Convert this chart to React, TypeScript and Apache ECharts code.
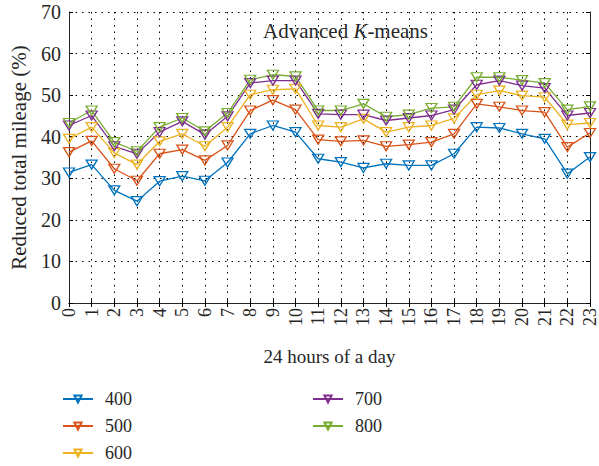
import React, { useEffect, useRef } from "react";
import * as echarts from "echarts";

const hours = ["0","1","2","3","4","5","6","7","8","9","10","11","12","13","14","15","16","17","18","19","20","21","22","23"];
const seriesNames = ["400", "500", "600", "700", "800"];
const s400 = [31.4, 33.3, 27.1, 24.5, 29.3, 30.5, 29.4, 33.8, 40.7, 42.7, 41.1, 34.7, 33.9, 32.5, 33.5, 33.1, 33.1, 35.9, 42.3, 42.1, 40.7, 39.5, 31.1, 35.1];
const s500 = [36.3, 39.0, 32.3, 29.4, 35.9, 36.9, 34.3, 37.9, 46.3, 48.8, 46.5, 39.3, 38.9, 39.1, 37.7, 38.1, 38.7, 40.7, 47.9, 47.2, 46.3, 45.9, 37.5, 40.9];
const s600 = [39.5, 42.3, 36.1, 33.3, 38.9, 40.7, 37.7, 42.3, 50.1, 51.3, 51.5, 42.7, 42.3, 44.3, 41.1, 42.3, 42.7, 44.4, 50.1, 51.1, 49.9, 49.5, 42.9, 43.3];
const s700 = [42.7, 45.1, 37.7, 35.9, 41.1, 43.7, 40.5, 44.9, 52.9, 53.5, 53.5, 45.5, 45.3, 45.3, 43.9, 44.5, 45.1, 46.5, 52.5, 53.5, 52.3, 51.7, 45.1, 45.7];
const s800 = [43.3, 46.3, 38.7, 36.5, 42.3, 44.5, 41.3, 45.7, 53.7, 54.9, 54.5, 46.3, 46.3, 47.9, 44.8, 45.3, 46.9, 47.2, 54.3, 54.3, 53.6, 52.9, 46.5, 47.3];
const allData = [s400, s500, s600, s700, s800];
const colors = ["#0072BD", "#D95319", "#EDB120", "#7E2F8E", "#77AC30"];

const FONT = "'Liberation Serif', 'DejaVu Serif', serif";
const TXT = "#262626";

export default function App() {
  const ref = useRef<HTMLDivElement>(null);
  useEffect(() => {
    const chart = echarts.init(ref.current!, null, { renderer: "svg" });
    const tickStyle = { show: true, inside: true, length: 4, lineStyle: { color: "#000" } };
    const axisLine = { show: true, lineStyle: { color: "#262626", width: 1 } };
    const gridLine = { show: true, lineStyle: { color: "#000", type: [1.5, 5] as any, width: 1 } };
    const legendText = { fontFamily: FONT, fontSize: 18, lineHeight: 20, color: TXT, padding: [0, 0, 0, 7] };
    const legendBase = {
      orient: "vertical",
      top: 389,
      height: 80,
      padding: 0,
      itemWidth: 30,
      itemHeight: 9,
      itemGap: 7,
      textStyle: legendText,
    };
    chart.setOption({
      animation: false,
      backgroundColor: "#fff",
      textStyle: { fontFamily: FONT },
      title: {
        text: "Advanced {i|K}-means",
        left: 258,
        top: 15,
        textStyle: {
          fontFamily: FONT,
          fontSize: 21,
          fontWeight: "normal",
          color: TXT,
          rich: { i: { fontFamily: FONT, fontSize: 21, fontStyle: "italic", color: TXT } },
        },
      },
      grid: { left: 69, right: 9, top: 12, bottom: 163, containLabel: false },
      legend: [
        { ...legendBase, data: seriesNames.slice(0, 3), left: 62 },
        { ...legendBase, data: seriesNames.slice(3), left: 312 },
      ],
      xAxis: [
        {
          type: "category",
          data: hours,
          boundaryGap: false,
          name: "24 hours of a day",
          nameLocation: "middle",
          nameGap: 44,
          nameTextStyle: { fontFamily: FONT, fontSize: 19, color: TXT },
          axisLine,
          axisTick: { ...tickStyle, alignWithLabel: true },
          axisLabel: { rotate: 90, fontFamily: FONT, fontSize: 18, color: TXT, margin: 5, interval: 0 },
          splitLine: gridLine,
        },
        {
          type: "category",
          data: hours,
          boundaryGap: false,
          position: "top",
          axisLine,
          axisTick: tickStyle,
          axisLabel: { show: false },
          splitLine: { show: false },
        },
      ],
      yAxis: [
        {
          type: "value",
          min: 0,
          max: 70,
          interval: 10,
          name: "Reduced total mileage (%)",
          nameLocation: "middle",
          nameGap: 40,
          nameRotate: 90,
          nameTextStyle: { fontFamily: FONT, fontSize: 21, color: TXT },
          axisLine,
          axisTick: tickStyle,
          axisLabel: { fontFamily: FONT, fontSize: 20, color: TXT, margin: 8 },
          splitLine: gridLine,
        },
        {
          type: "value",
          min: 0,
          max: 70,
          interval: 10,
          position: "right",
          axisLine,
          axisTick: tickStyle,
          axisLabel: { show: false },
          splitLine: { show: false },
        },
      ],
      series: allData.map((d, i) => ({
        name: seriesNames[i],
        type: "line",
        data: d,
        symbol: "triangle",
        symbolRotate: 180,
        symbolSize: [11, 9],
        showAllSymbol: true,
        lineStyle: { color: colors[i], width: 1.3 },
        itemStyle: { color: "rgba(255,255,255,0)", borderColor: colors[i], borderWidth: 1.3 },
      })),
    });
    return () => chart.dispose();
  }, []);
  return <div ref={ref} style={{ width: 599, height: 466, position: "absolute", left: 0, top: 0 }} />;
}
